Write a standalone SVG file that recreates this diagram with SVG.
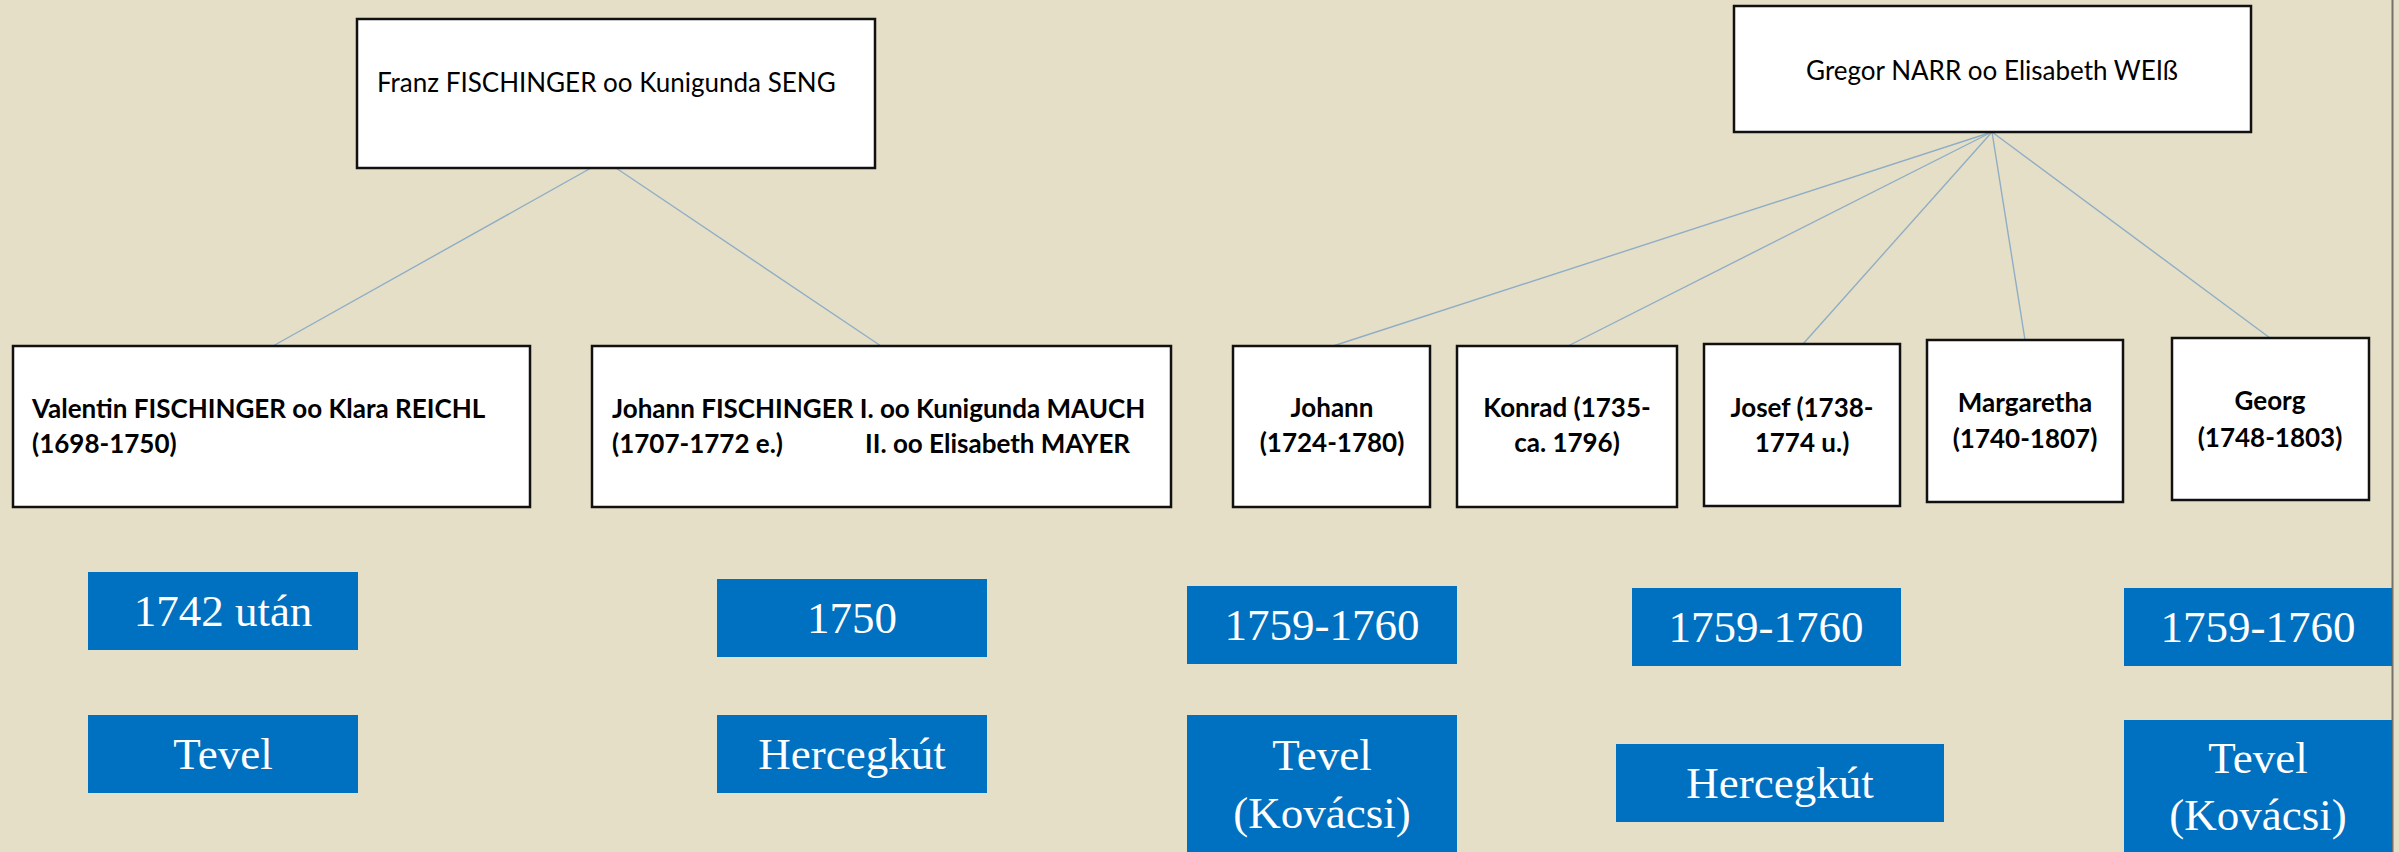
<svg xmlns="http://www.w3.org/2000/svg" width="2399" height="852" viewBox="0 0 2399 852">
<style>
.bg{fill:#E6DFC7}
.box{fill:#FFFFFF;stroke:#111111;stroke-width:2.5}
.blue{fill:#0070C0}
.t{font-family:Lato,"Open Sans","Liberation Sans",sans-serif;font-size:26px;fill:#000}
.b{font-family:Lato,"Open Sans","Liberation Sans",sans-serif;font-size:26px;font-weight:bold;fill:#000}
.c{text-anchor:middle}
.s{font-family:"Liberation Serif","Times New Roman",serif;font-size:45px;fill:#FFFFFF;text-anchor:middle}
.ln{stroke:#8FAEC6;stroke-width:1.4;fill:none}
</style>
<rect class="bg" x="0" y="0" width="2399" height="852"/>
<line x1="2392.5" y1="0" x2="2392.5" y2="852" stroke="#76716A" stroke-width="2"/>

<g id="connectors">
<line class="ln" x1="591" y1="168" x2="273" y2="346"/>
<line class="ln" x1="616" y1="168" x2="881" y2="346"/>
<line class="ln" x1="1992" y1="132" x2="1333" y2="346"/>
<line class="ln" x1="1992" y1="132" x2="1568" y2="346"/>
<line class="ln" x1="1992" y1="132" x2="1803" y2="344"/>
<line class="ln" x1="1992" y1="132" x2="2025" y2="340"/>
<line class="ln" x1="1992" y1="132" x2="2270" y2="338"/>
</g>

<g id="franz">
<rect class="box" x="357" y="19" width="518" height="149"/>
<text class="t" x="377" y="92">Franz FISCHINGER oo Kunigunda SENG</text>
</g>

<g id="gregor">
<rect class="box" x="1734" y="6" width="517" height="126"/>
<text class="t c" x="1992" y="80">Gregor NARR oo Elisabeth WEIß</text>
</g>

<g id="valentin">
<rect class="box" x="13" y="346" width="517" height="161"/>
<text class="b" x="32" y="418">Valentin FISCHINGER oo Klara REICHL</text>
<text class="b" x="32" y="453">(1698-1750)</text>
</g>

<g id="johann-fischinger">
<rect class="box" x="592" y="346" width="579" height="161"/>
<text class="b" x="612" y="418">Johann FISCHINGER I. oo Kunigunda MAUCH</text>
<text class="b" y="453"><tspan x="612">(1707-1772 e.)</tspan><tspan x="865">II. oo Elisabeth MAYER</tspan></text>
</g>

<g id="johann">
<rect class="box" x="1233" y="346" width="197" height="161"/>
<text class="b c" x="1332" y="417">Johann</text>
<text class="b c" x="1332" y="452">(1724-1780)</text>
</g>

<g id="konrad">
<rect class="box" x="1457" y="346" width="220" height="161"/>
<text class="b c" x="1567" y="417">Konrad (1735-</text>
<text class="b c" x="1567" y="452">ca. 1796)</text>
</g>

<g id="josef">
<rect class="box" x="1704" y="344" width="196" height="162"/>
<text class="b c" x="1802" y="417">Josef (1738-</text>
<text class="b c" x="1802" y="452">1774 u.)</text>
</g>

<g id="margaretha">
<rect class="box" x="1927" y="340" width="196" height="162"/>
<text class="b c" x="2025" y="412">Margaretha</text>
<text class="b c" x="2025" y="448">(1740-1807)</text>
</g>

<g id="georg">
<rect class="box" x="2172" y="338" width="197" height="162"/>
<text class="b c" x="2270" y="410">Georg</text>
<text class="b c" x="2270" y="447">(1748-1803)</text>
</g>

<g id="date-valentin">
<rect class="blue" x="88" y="572" width="270" height="78"/>
<text class="s" x="223" y="626">1742 után</text>
</g>
<g id="date-johann-fischinger">
<rect class="blue" x="717" y="579" width="270" height="78"/>
<text class="s" x="852" y="633">1750</text>
</g>
<g id="date-johann">
<rect class="blue" x="1187" y="586" width="270" height="78"/>
<text class="s" x="1322" y="640">1759-1760</text>
</g>
<g id="date-josef">
<rect class="blue" x="1632" y="588" width="269" height="78"/>
<text class="s" x="1766" y="642">1759-1760</text>
</g>
<g id="date-georg">
<rect class="blue" x="2124" y="588" width="268" height="78"/>
<text class="s" x="2258" y="642">1759-1760</text>
</g>

<g id="place-valentin">
<rect class="blue" x="88" y="715" width="270" height="78"/>
<text class="s" x="223" y="769">Tevel</text>
</g>
<g id="place-johann-fischinger">
<rect class="blue" x="717" y="715" width="270" height="78"/>
<text class="s" x="852" y="769">Hercegkút</text>
</g>
<g id="place-johann">
<rect class="blue" x="1187" y="715" width="270" height="137"/>
<text class="s" x="1322" y="770">Tevel</text>
<text class="s" x="1322" y="828">(Kovácsi)</text>
</g>
<g id="place-josef">
<rect class="blue" x="1616" y="744" width="328" height="78"/>
<text class="s" x="1780" y="798">Hercegkút</text>
</g>
<g id="place-georg">
<rect class="blue" x="2124" y="720" width="268" height="132"/>
<text class="s" x="2258" y="773">Tevel</text>
<text class="s" x="2258" y="830">(Kovácsi)</text>
</g>
</svg>
